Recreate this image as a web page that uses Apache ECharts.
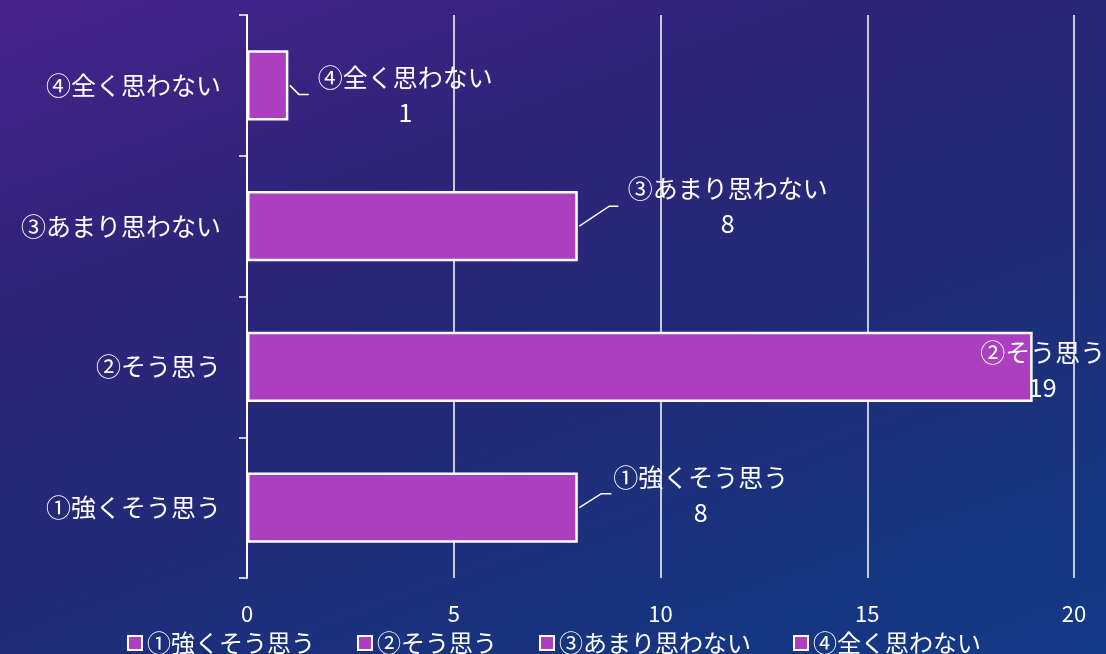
<!DOCTYPE html>
<html><head><meta charset="utf-8">
<script src="https://cdn.jsdelivr.net/npm/echarts@6/dist/echarts.min.js"></script>
<style>
html,body{margin:0;padding:0;width:1106px;height:654px;overflow:hidden;
background:linear-gradient(160deg,#46238c 0%,#2e2479 30%,#222a78 55%,#18347f 80%,#133a87 100%);}
#c{width:1106px;height:654px;}
</style></head><body><div id="c"></div>
<script>
const categories = ['①強くそう思う','②そう思う','③あまり思わない','④全く思わない'];
const seriesNames = ['①強くそう思う','②そう思う','③あまり思わない','④全く思わない'];
const values = [8, 19, 8, 1];
const xTicks = {min:0, max:20, interval:5};

const font = '"Noto Sans CJK JP", "Noto Sans", sans-serif';
const purple = '#AB3FBF';
// label offsets [dx, dy] from bar end (style only)
const labelOffsets = [[123,-13],[10,3],[150,-20],[117,10]];
// leader line shape per category: [diagDx, diagDy, horizontalLen] (style only), null = none
const leaderShapes = [[22,-14,10], null, [30,-20,9], [9,9,10]];

const series = seriesNames.map((name,i)=>({
  name: name,
  type:'bar',
  stack:'total',
  barWidth:'50%',
  data: categories.map((c,j)=> j===i ? values[i] : '-'),
  itemStyle:{color:purple, borderColor:'#ffffff', borderWidth:2.5},
  label:{show:true, position:'right', distance:0, align:'center',
    formatter:'{a}\n{c}', color:'#fff', fontSize:25, lineHeight:35, fontFamily:font},
  labelLayout:{dx:labelOffsets[i][0], dy:labelOffsets[i][1]}
}));

series.push({
  type:'custom',
  name:'leaders',
  silent:true,
  z:5,
  data: values.map((v,i)=>[v,i]),
  encode:{x:0, y:1},
  renderItem:function(params, api){
    const idx = api.value(1);
    const s = leaderShapes[idx];
    if(!s) return null;
    const p = api.coord([api.value(0), idx]);
    const x0 = p[0] + 1.5, y0 = p[1];
    return {type:'polyline', shape:{points:[[x0,y0],[x0+s[0],y0+s[1]],[x0+s[0]+s[2],y0+s[1]]]},
      style:{stroke:'#ffffff', lineWidth:1.5, fill:null}};
  }
});

const chart = echarts.init(document.getElementById('c'), null, {renderer:'canvas'});
chart.setOption({
  backgroundColor:'transparent',
  animation:false,
  textStyle:{fontFamily:font},
  grid:{left:247, right:32, top:15, bottom:76, containLabel:false},
  legend:{data:seriesNames, left:122, top:626, icon:'rect', itemWidth:14, itemHeight:14,
    itemGap:42, textStyle:{color:'#fff', fontSize:24, fontFamily:font}},
  xAxis:{type:'value', min:xTicks.min, max:xTicks.max, interval:xTicks.interval,
    axisLine:{show:false}, axisTick:{show:false},
    axisLabel:{color:'#fff', fontSize:22, margin:25, fontFamily:font},
    splitLine:{show:true, lineStyle:{color:'#ffffff', width:1.5}}},
  yAxis:{type:'category', data:categories,
    axisLine:{show:true, lineStyle:{color:'#ffffff', width:2}},
    axisTick:{show:true, length:8, lineStyle:{color:'#ffffff', width:1.5}},
    axisLabel:{color:'#fff', fontSize:25, margin:26, fontFamily:font}},
  series: series
});
</script></body></html>
